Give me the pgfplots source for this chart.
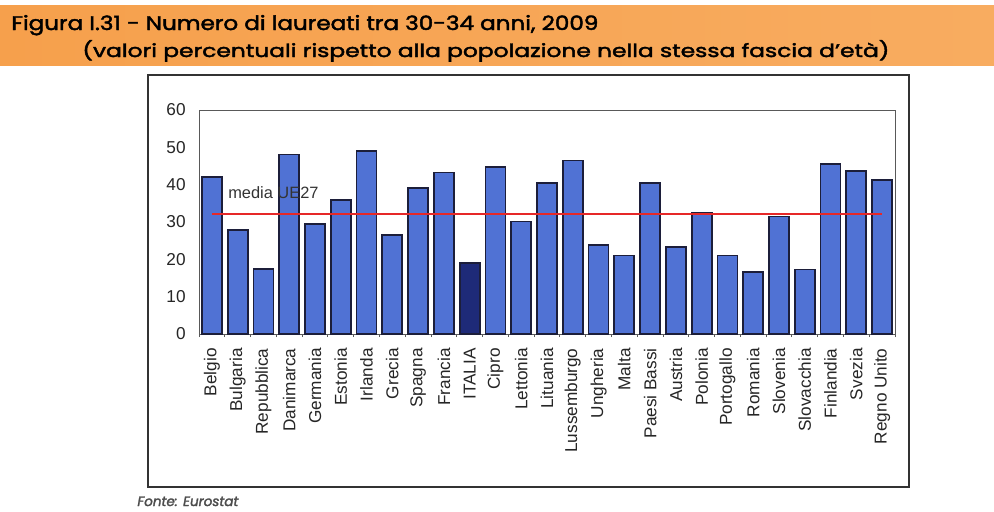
\documentclass[border=0pt]{standalone}
\usepackage{fontspec}
\setmainfont{Liberation Sans}
\newfontfamily\titlefont{Poppins}[FakeBold=2]
\usepackage{graphicx}
\usepackage{pgfplots}
\usepackage{pgfplotstable}
\pgfplotsset{compat=1.18}
\definecolor{orangeL}{RGB}{246,160,76}
\definecolor{orangeR}{RGB}{248,172,96}
\definecolor{barblue}{RGB}{80,114,212}
\definecolor{bardark}{RGB}{28,30,58}
\definecolor{italia}{RGB}{30,42,120}
\definecolor{medialine}{RGB}{230,40,40}
\pgfplotstableread{
x val
0 42.0
1 27.9
2 17.5
3 48.1
4 29.4
5 35.9
6 49.0
7 26.5
8 39.2
9 43.3
10 19.0
11 44.7
12 30.1
13 40.5
14 46.5
15 23.9
16 21.0
17 40.5
18 23.4
19 32.5
20 21.0
21 16.7
22 31.5
23 17.3
24 45.6
25 43.7
26 41.3
}\datatable
\begin{document}
\begin{tikzpicture}
\useasboundingbox (0,0) rectangle (497pt,-255.5pt);
\fill[white] (0,0) rectangle (497pt,-255.5pt);
\shade[left color=orangeL, right color=orangeR] (0,-2.5pt) rectangle (497pt,-32.5pt);
\node[anchor=base west, inner sep=0pt] at (5.5pt,-15pt)
  {\resizebox{293.5pt}{7.5pt}{\titlefont Figura I.31 - Numero di laureati tra 30-34 anni, 2009}};
\node[anchor=base west, inner sep=0pt] at (41pt,-28.5pt)
  {\resizebox{403.5pt}{8.5pt}{\titlefont (valori percentuali rispetto alla popolazione nella stessa fascia d’età)}};
\draw[line width=0.7pt, black!80] (74pt,-37.5pt) rectangle (454.5pt,-243.5pt);
\begin{axis}[
  at={(99.5pt,-167pt)}, anchor=south west,
  scale only axis, width=348pt, height=112pt,
  xmin=-0.5, xmax=26.5, ymin=0, ymax=60,
  ytick={0,10,...,60},
  xtick={0,...,26},
  minor xtick={-0.5,0.5,...,26.5},
  xticklabels={Belgio,Bulgaria,Repubblica,Danimarca,Germania,Estonia,Irlanda,Grecia,Spagna,Francia,ITALIA,Cipro,Lettonia,Lituania,Lussemburgo,Ungheria,Malta,Paesi Bassi,Austria,Polonia,Portogallo,Romania,Slovenia,Slovacchia,Finlandia,Svezia,Regno Unito},
  major tick length=0pt,
  minor tick length=1.5pt,
  tick align=outside,
  xtick pos=bottom, ytick pos=left,
  axis line style={black!65, line width=0.5pt},
  tick style={black!65, line width=0.4pt},
  tick label style={font=\fontsize{8.6}{10}\selectfont, text=black!85},
  xticklabel style={rotate=90, anchor=east, inner sep=0pt},
  xticklabel shift=7pt,
  yticklabel style={anchor=east, inner sep=0pt},
  yticklabel shift=6.5pt,
  /pgf/number format/assume math mode=true,
  clip=false,
]
\addplot[ybar, bar width=10pt, bar shift=0pt, fill=barblue, draw=bardark, line width=0.85pt] table[x=x,y=val] {\datatable};
\addplot[ybar, bar width=10pt, bar shift=0pt, fill=italia, draw=bardark, line width=0.85pt] coordinates {(10,19.0)};
\addplot[draw=medialine, color=medialine, line width=0.7pt, mark=none, sharp plot] coordinates {(0,32.2) (26,32.2)};
\node[anchor=west, inner sep=0pt, font=\fontsize{8.2}{10}\selectfont, text=black!80] at (axis cs:0.62,37.8) {media UE27};
\end{axis}
\node[anchor=base west, inner sep=0pt, text=black!70] at (68.5pt,-253pt)
  {\resizebox{50.5pt}{!}{\titlefont\itshape Fonte: Eurostat}};
\end{tikzpicture}
\end{document}
